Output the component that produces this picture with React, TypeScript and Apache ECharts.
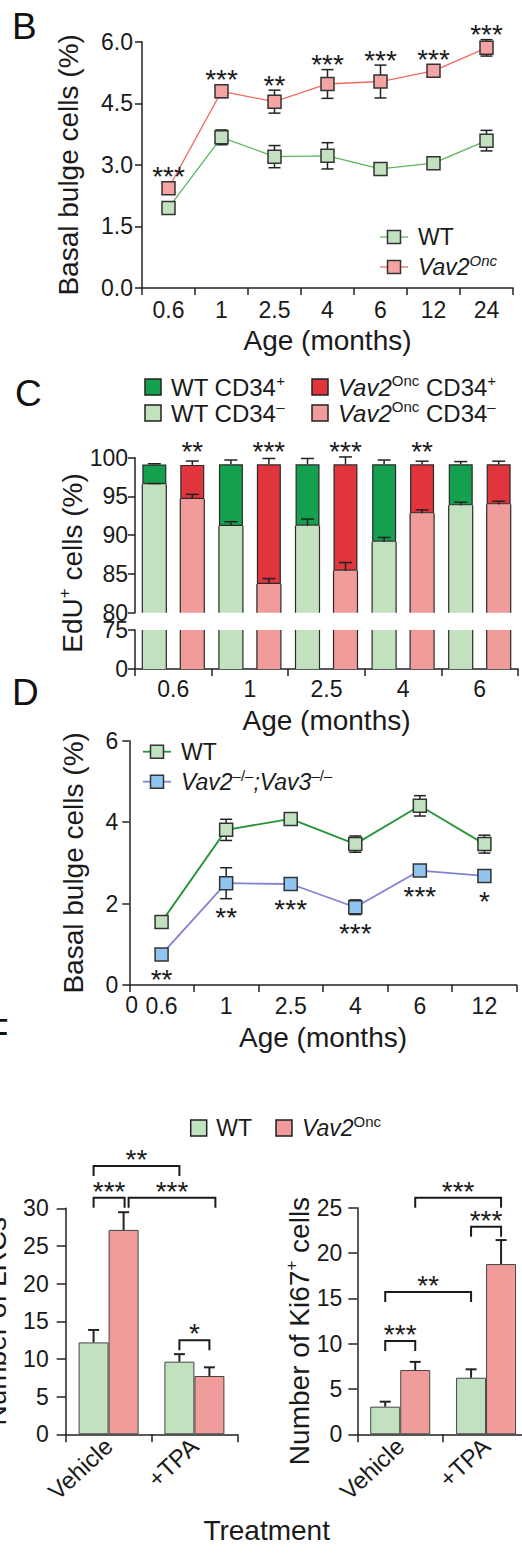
import React, { useEffect, useRef } from 'react';
import * as echarts from 'echarts';

const FONT = "'Liberation Sans', Arial, Helvetica, sans-serif";
const INK = '#1a1a1a';
const AX = '#222222';
const EDGE = '#2a2a2a';
const STAR = 28;

const LG = '#c1e1bf';
const DG = '#14a04e';
const PK = '#f09c9b';
const RD = '#e2343c';
const BL = '#8fc5ee';

// ---------- Panel B ----------
const agesB = ['0.6', '1', '2.5', '4', '6', '12', '24'];
const wtB = [1.95, 3.67, 3.2, 3.22, 2.9, 3.04, 3.59];
const wtBErr = [0.06, 0.18, 0.27, 0.32, 0.1, 0.08, 0.25];
const vavB = [2.43, 4.79, 4.54, 4.97, 5.03, 5.29, 5.85];
const vavBErr = [0.08, 0.15, 0.28, 0.35, 0.4, 0.08, 0.2];
const sigB = ['***', '***', '**', '***', '***', '***', '***'];

// ---------- Panel C ----------
const agesC = ['0.6', '1', '2.5', '4', '6'];
const wtNegC = [96.57, 91.19, 91.23, 89.16, 93.85];
const wtNegCErr = [0.1, 0.55, 0.85, 0.55, 0.4];
const wtPosC = [2.55, 7.96, 7.92, 9.99, 5.3];
const wtTotCErr = [0.1, 0.55, 0.75, 0.55, 0.35];
const vavNegC = [94.67, 83.7, 85.42, 92.82, 93.98];
const vavNegCErr = [0.6, 0.7, 1.05, 0.45, 0.4];
const vavPosC = [4.4, 15.45, 13.73, 6.33, 5.17];
const vavTotCErr = [0.5, 0.75, 0.95, 0.4, 0.4];
const sigC = ['**', '***', '***', '**', ''];

// ---------- Panel D ----------
const agesD = ['0.6', '1', '2.5', '4', '6', '12'];
const wtD = [1.55, 3.81, 4.08, 3.46, 4.4, 3.46];
const wtDErr = [0.06, 0.26, 0.1, 0.2, 0.25, 0.22];
const koD = [0.75, 2.5, 2.48, 1.91, 2.81, 2.68];
const koDErr = [0.05, 0.38, 0.06, 0.18, 0.08, 0.08];
const sigD = ['**', '**', '***', '***', '***', '*'];

// ---------- Panel F ----------
const treatments = ['Vehicle', '+TPA'];
const lrcWT = [12.2, 9.64];
const lrcWTErr = [1.65, 1.0];
const lrcVav = [27.13, 7.74];
const lrcVavErr = [2.35, 1.15];
const kiWT = [3.05, 6.24];
const kiWTErr = [0.55, 0.93];
const kiVav = [7.09, 18.78];
const kiVavErr = [0.9, 2.65];
const bracketsLRC = [
  { a: [0, 0], b: [1, 0], level: 35.6, label: '**', dx: [0, 0] },
  { a: [0, 0], b: [0, 1], level: 31.4, label: '***', dx: [0, 1] },
  { a: [0, 1], b: [1, 1], level: 31.4, label: '***', dx: [5, 6] },
  { a: [1, 0], b: [1, 1], level: 12.5, label: '*', dx: [0, 0] },
];
const bracketsKi = [
  { a: [0, 1], b: [1, 1], level: 26.1, label: '***', dx: [0, 0] },
  { a: [1, 0], b: [1, 1], level: 22.9, label: '***', dx: [0, 0] },
  { a: [0, 0], b: [1, 0], level: 15.7, label: '**', dx: [0, 0] },
  { a: [0, 0], b: [0, 1], level: 10.3, label: '***', dx: [0, 0] },
];

// ---------- helpers ----------
function txt(text: string, x: number, y: number, size: number, extra: any = {}) {
  return {
    text, x, y, fill: INK, fontSize: size, fontFamily: FONT,
    align: 'center', verticalAlign: 'middle', textAlign: 'center', textVerticalAlign: 'middle',
    ...extra,
  };
}
function rich(size: number, sup: number, lh: number) {
  return {
    n: { fontSize: size, fontFamily: FONT, fill: INK, color: INK, lineHeight: lh },
    i: { fontSize: size, fontFamily: FONT, fill: INK, color: INK, lineHeight: lh, fontStyle: 'italic' },
    s: { fontSize: sup, fontFamily: FONT, fill: INK, color: INK, lineHeight: sup, verticalAlign: 'top' },
    si: { fontSize: sup, fontFamily: FONT, fill: INK, color: INK, lineHeight: sup, verticalAlign: 'top', fontStyle: 'italic' },
  };
}
function richText(text: string, x: number, y: number, size: number, sup: number, align = 'left') {
  return {
    text, x, y, rich: rich(size, sup, size + 5), fill: INK, fontSize: size, fontFamily: FONT,
    align, textAlign: align, verticalAlign: 'middle', textVerticalAlign: 'middle',
  };
}

const axisLine = { show: true, onZero: false, lineStyle: { color: AX, width: 1.5 } };
const tick = (len: number) => ({ show: true, length: len, inside: false, lineStyle: { color: AX, width: 1.5 } });
const lbl = (margin: number, extra: any = {}) => ({ fontSize: 23, fontFamily: FONT, color: INK, margin, ...extra });
const nameStyle = { fontSize: 28, fontFamily: FONT, color: INK };

function errBars(gi: number, vals: number[], errs: number[], o: any = {}) {
  const off = o.off || 0, cap = o.cap || 12, up = !!o.up, lw = o.lw || 1.5, z = o.z || 2;
  return {
    type: 'custom', xAxisIndex: gi, yAxisIndex: gi, z, silent: true,
    data: vals.map((v, i) => [i, v, errs[i]]),
    renderItem: (params: any, api: any) => {
      const i = params.dataIndex;
      const v = api.value(1), e = api.value(2);
      const c = api.coord([i, v]);
      const hi = api.coord([i, v + e])[1];
      const lo = up ? c[1] : api.coord([i, v - e])[1];
      const x = c[0] + off;
      const st = { stroke: AX, lineWidth: lw };
      const ch: any[] = [
        { type: 'line', shape: { x1: x, y1: hi, x2: x, y2: lo }, style: st },
        { type: 'line', shape: { x1: x - cap / 2, y1: hi, x2: x + cap / 2, y2: hi }, style: st },
      ];
      if (!up) ch.push({ type: 'line', shape: { x1: x - cap / 2, y1: lo, x2: x + cap / 2, y2: lo }, style: st });
      return { type: 'group', children: ch };
    },
  };
}

// side edges of the broken-axis bars (no border drawn at the break)
function barSides(gi: number, vals: number[], off: number, halfW: number, low: number, high: number) {
  return {
    type: 'custom', xAxisIndex: gi, yAxisIndex: gi, z: 4, silent: true,
    data: vals.map((v, i) => [i, v]),
    renderItem: (params: any, api: any) => {
      const i = params.dataIndex;
      const v = Math.min(api.value(1), high);
      const top = api.coord([i, v]);
      const bot = api.coord([i, low])[1];
      const x = top[0] + off;
      const st = { stroke: EDGE, lineWidth: 1.2 };
      return {
        type: 'group',
        children: [
          { type: 'line', shape: { x1: x - halfW, y1: top[1], x2: x - halfW, y2: bot }, style: st },
          { type: 'line', shape: { x1: x + halfW, y1: top[1], x2: x + halfW, y2: bot }, style: st },
        ],
      };
    },
  };
}

function sigPoint(gi: number, vals: number[], errs: number[], labels: string[], above: boolean, gap: number) {
  return {
    type: 'custom', xAxisIndex: gi, yAxisIndex: gi, z: 6, silent: true,
    data: vals.map((v, i) => [i, v, errs[i]]),
    renderItem: (params: any, api: any) => {
      const i = params.dataIndex;
      const v = api.value(1), e = api.value(2);
      const c = api.coord([i, v]);
      let y;
      if (above) {
        const top = Math.min(api.coord([i, v + e])[1], c[1] - 6.5);
        y = top - gap + 6;
      } else {
        const bot = Math.max(api.coord([i, v - e])[1], c[1] + 6.5);
        y = bot + gap + 6;
      }
      return { type: 'text', style: txt(labels[i], c[0], y, STAR) };
    },
  };
}

function sigTopC(gi: number, labels: string[], off: number) {
  return {
    type: 'custom', xAxisIndex: gi, yAxisIndex: gi, z: 6, silent: true,
    data: labels.map((_, i) => [i, 100]),
    renderItem: (params: any, api: any) => {
      const i = params.dataIndex;
      const c = api.coord([i, api.value(1)]);
      return { type: 'text', style: txt(labels[i], c[0] + off, c[1] - 12.7 + 6, STAR) };
    },
  };
}

function brackets(gi: number, list: any[], off: number[]) {
  return {
    type: 'custom', xAxisIndex: gi, yAxisIndex: gi, z: 6, silent: true,
    data: list.map((b) => [b.a[0], b.level]),
    renderItem: (params: any, api: any) => {
      const b = list[params.dataIndex];
      const pa = api.coord([b.a[0], b.level]);
      const pb = api.coord([b.b[0], b.level]);
      const x1 = pa[0] + off[b.a[1]] + b.dx[0];
      const x2 = pb[0] + off[b.b[1]] + b.dx[1];
      const y = pa[1];
      return {
        type: 'group',
        children: [
          { type: 'polyline', shape: { points: [[x1, y + 10], [x1, y], [x2, y], [x2, y + 10]] }, style: { stroke: INK, lineWidth: 2, fill: 'none' } },
          { type: 'text', style: txt(b.label, (x1 + x2) / 2, y - 12.5 + 6, STAR) },
        ],
      };
    },
  };
}

function lineLegend(x: number, y: number, lineColor: string, fill: string, label: string, lw: number) {
  return [
    { type: 'line', shape: { x1: x, y1: y, x2: x + 28, y2: y }, style: { stroke: lineColor, lineWidth: lw } },
    { type: 'rect', shape: { x: x + 14 - 6.5, y: y - 6.5, width: 13, height: 13 }, style: { fill, stroke: '#333', lineWidth: 1.5 } },
    { type: 'text', style: richText(label, x + 38, y, 23, 15) },
  ];
}
function boxLegend(x: number, y: number, fill: string, label: string, size: number, textGap: number, font: number) {
  return [
    { type: 'rect', shape: { x, y: y - size / 2, width: size, height: size }, style: { fill, stroke: '#222', lineWidth: 1.5 } },
    { type: 'text', style: richText(label, x + size + textGap, y, font, 15) },
  ];
}

function buildOption(): any {
  const grids = [
    { left: 142, top: 41.7, width: 371, height: 246.3 },
    { left: 135, top: 457.7, width: 383, height: 155 },
    { left: 135, top: 630, width: 383, height: 39 },
    { left: 129.3, top: 740.7, width: 387.4, height: 244.3 },
    { left: 65.7, top: 1208.3, width: 171.6, height: 226 },
    { left: 357.3, top: 1207.7, width: 171.7, height: 226.6 },
  ].map((g) => ({ ...g, containLabel: false, outerBoundsMode: 'none', show: false }));

  const catAxis = (gi: number, data: string[], margin: number, extra: any = {}) => ({
    gridIndex: gi, type: 'category', data, axisLine, axisTick: tick(7),
    axisLabel: lbl(margin, { interval: 0 }), splitLine: { show: false }, ...extra,
  });
  const ageName = (gap: number) => ({ name: 'Age (months)', nameLocation: 'middle', nameGap: gap, nameTextStyle: nameStyle, nameMoveOverlap: false });
  const rotLabels = lbl(8, { interval: 0, rotate: 43, fontSize: 24 });

  const xAxis = [
    catAxis(0, agesB, 10, ageName(38)),
    { gridIndex: 1, type: 'category', data: agesC, show: false },
    catAxis(2, agesC, 8, ageName(37)),
    catAxis(3, agesD, 9, ageName(38)),
    catAxis(4, treatments, 8, { axisTick: tick(8), axisLabel: rotLabels }),
    catAxis(5, treatments, 8, { axisTick: tick(8), axisLabel: rotLabels }),
  ];

  const valAxis = (gi: number, min: number, max: number, interval: number, tl: number, margin: number, extra: any = {}) => ({
    gridIndex: gi, type: 'value', min, max, interval, axisLine, axisTick: tick(tl),
    splitLine: { show: false }, axisLabel: lbl(margin), ...extra,
  });
  const yName = (name: string, gap: number) => ({ name, nameLocation: 'middle', nameGap: gap, nameRotate: 90, nameTextStyle: nameStyle, nameMoveOverlap: false });

  const yAxis = [
    valAxis(0, 0, 6, 1.5, 7, 9, { axisLabel: lbl(9, { formatter: (v: number) => v.toFixed(1) }), ...yName('Basal bulge cells (%)', 60) }),
    valAxis(1, 80, 100, 5, 7, 7),
    valAxis(2, 0, 75, 75, 7, 7),
    valAxis(3, 0, 6, 2, 7, 11, yName('Basal bulge cells (%)', 42)),
    valAxis(4, 0, 30, 5, 9, 17, yName('Number of LRCs', 55)),
    valAxis(5, 0, 25, 5, 9, 15),
  ];

  const barC = (name: string, gi: number, data: number[], stack: string | undefined, color: string, bw: number) => ({
    type: 'bar', name, xAxisIndex: gi, yAxisIndex: gi, data, stack, barWidth: 24, barGap: '58%',
    itemStyle: { color, borderColor: EDGE, borderWidth: bw }, z: 2, silent: true, clip: true,
  });
  const barF = (name: string, gi: number, data: number[], color: string) => ({
    type: 'bar', name, xAxisIndex: gi, yAxisIndex: gi, data, barWidth: 30, barGap: '0%',
    itemStyle: { color, borderColor: '#444', borderWidth: 1 }, z: 2, silent: true,
  });
  const lineS = (name: string, gi: number, data: number[], lc: string, fill: string, lw: number) => ({
    type: 'line', name, xAxisIndex: gi, yAxisIndex: gi, data, symbol: 'rect', symbolSize: 13,
    lineStyle: { color: lc, width: lw }, itemStyle: { color: fill, borderColor: '#333', borderWidth: 1.5 }, z: 4, silent: true,
  });

  const wtTotC = wtNegC.map((v, i) => v + wtPosC[i]);
  const vavTotC = vavNegC.map((v, i) => v + vavPosC[i]);
  const offC = 19;

  const series: any[] = [
    // B
    errBars(0, wtB, wtBErr, { cap: 12, z: 3 }),
    errBars(0, vavB, vavBErr, { cap: 12, z: 3 }),
    lineS('WT', 0, wtB, '#5cb65c', LG, 1.3),
    lineS('Vav2 Onc', 0, vavB, '#ef6a62', '#f3a4a3', 1.3),
    sigPoint(0, vavB, vavBErr, sigB, true, 11),
    // C upper
    barC('WT CD34-', 1, wtNegC, 'wt', LG, 0),
    barC('WT CD34+', 1, wtPosC, 'wt', DG, 1.2),
    barC('Vav2 Onc CD34-', 1, vavNegC, 'vav', PK, 0),
    barC('Vav2 Onc CD34+', 1, vavPosC, 'vav', RD, 1.2),
    barSides(1, wtNegC, -offC, 12, 80, 100),
    barSides(1, vavNegC, offC, 12, 80, 100),
    errBars(1, wtNegC, wtNegCErr, { off: -offC, cap: 13, up: true, z: 5 }),
    errBars(1, wtTotC, wtTotCErr, { off: -offC, cap: 13, up: true, z: 5 }),
    errBars(1, vavNegC, vavNegCErr, { off: offC, cap: 13, up: true, z: 5 }),
    errBars(1, vavTotC, vavTotCErr, { off: offC, cap: 13, up: true, z: 5 }),
    sigTopC(1, sigC, offC),
    // C lower
    barC('WT CD34- ', 2, wtNegC, undefined, LG, 0),
    barC('Vav2 Onc CD34- ', 2, vavNegC, undefined, PK, 0),
    barSides(2, wtNegC, -offC, 12, 0, 75),
    barSides(2, vavNegC, offC, 12, 0, 75),
    // D
    errBars(3, wtD, wtDErr, { cap: 12, z: 3 }),
    errBars(3, koD, koDErr, { cap: 12, z: 3 }),
    lineS('WT ', 3, wtD, '#24963a', LG, 1.8),
    lineS('Vav2-/-;Vav3-/-', 3, koD, '#8282d4', BL, 1.8),
    sigPoint(3, koD, koDErr, sigD, false, 13),
    // F left
    barF('WT  ', 4, lrcWT, LG),
    barF('Vav2 Onc  ', 4, lrcVav, PK),
    errBars(4, lrcWT, lrcWTErr, { off: -15, cap: 11, up: true, lw: 2, z: 5 }),
    errBars(4, lrcVav, lrcVavErr, { off: 15, cap: 11, up: true, lw: 2, z: 5 }),
    brackets(4, bracketsLRC, [-15, 15]),
    // F right
    barF('WT   ', 5, kiWT, LG),
    barF('Vav2 Onc   ', 5, kiVav, PK),
    errBars(5, kiWT, kiWTErr, { off: -15, cap: 11, up: true, lw: 2, z: 5 }),
    errBars(5, kiVav, kiVavErr, { off: 15, cap: 11, up: true, lw: 2, z: 5 }),
    brackets(5, bracketsKi, [-15, 15]),
  ];

  const letter = (t: string, x: number, y: number) => ({ type: 'text', style: txt(t, x, y, 37, { align: 'left', textAlign: 'left', fill: '#111' }) });

  const graphics: any[] = [
    letter('B', 12, 26.7),
    letter('C', 15, 393.3),
    letter('D', 12, 692.5),
    letter('F', -14, 1032),
    ...lineLegend(380, 237, '#5cb65c', LG, '{n|WT}', 1.3),
    ...lineLegend(380, 267, '#ef6a62', '#f3a4a3', '{i|Vav2}{si|Onc}', 1.3),
    ...boxLegend(145, 387, DG, '{n|WT CD34}{s|+}', 16, 10, 24),
    ...boxLegend(145, 413, LG, '{n|WT CD34}{s|\u2013}', 16, 10, 24),
    ...boxLegend(312, 387, RD, '{i|Vav2}{s|Onc}{n| CD34}{s|+}', 16, 10, 24),
    ...boxLegend(312, 413, PK, '{i|Vav2}{s|Onc}{n| CD34}{s|\u2013}', 16, 10, 24),
    { type: 'text', x: 72, y: 563, rotation: Math.PI / 2, style: richText('{n|EdU}{s|+}{n| cells (%)}', 0, 0, 28, 17, 'center') },
    ...lineLegend(143, 751.7, '#24963a', LG, '{n|WT}', 1.8),
    ...lineLegend(143, 781.7, '#8282d4', BL, '{i|Vav2}{s|\u2013/\u2013}{i|;Vav3}{s|\u2013/\u2013}', 1.8),
    { type: 'text', style: txt('0', 131.7, 1005, 23) },
    ...boxLegend(190.7, 1128, LG, '{n|WT}', 16, 9.5, 23),
    ...boxLegend(276, 1128, PK, '{i|Vav2}{s|Onc}', 16, 10, 23),
    { type: 'text', x: 299, y: 1331, rotation: Math.PI / 2, style: richText('{n|Number of Ki67}{s|+}{n| cells}', 0, 0, 28, 17, 'center') },
    { type: 'text', style: txt('Treatment', 266.7, 1530, 28) },
  ];

  return {
    animation: false,
    backgroundColor: '#ffffff',
    textStyle: { fontFamily: FONT },
    grid: grids,
    xAxis,
    yAxis,
    series,
    graphic: { elements: graphics },
  };
}

export default function App() {
  const ref = useRef<HTMLDivElement>(null);
  useEffect(() => {
    document.body.style.margin = '0';
    const chart = echarts.init(ref.current as HTMLDivElement, null, { renderer: 'svg', width: 522, height: 1553 });
    chart.setOption(buildOption());
    return () => chart.dispose();
  }, []);
  return (
    <div
      ref={ref}
      style={{ width: 522, height: 1553, position: 'absolute', left: 0, top: 0, background: '#fff', overflow: 'hidden' }}
    />
  );
}
